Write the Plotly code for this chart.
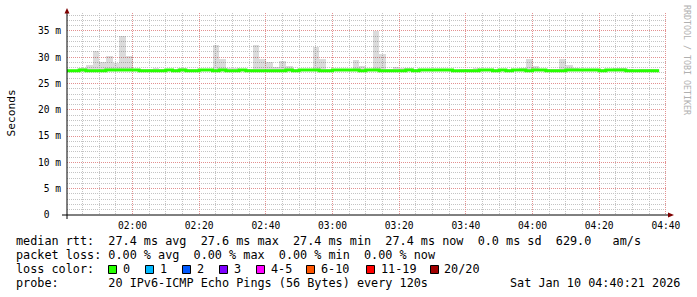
import plotly.graph_objects as go
import pandas as pd

# ---------------- data ----------------
bin_start = pd.date_range("2026-01-10 01:40:00", periods=89, freq="120s")

median_ms = [27.40, 27.40, 27.58, 27.40, 27.40, 27.40, 27.58, 27.58, 27.58, 27.58,
             27.58, 27.40, 27.40, 27.40, 27.40, 27.58, 27.40, 27.58, 27.40, 27.40,
             27.58, 27.58, 27.40, 27.58, 27.40, 27.40, 27.58, 27.40, 27.40, 27.40,
             27.40, 27.40, 27.40, 27.58, 27.40, 27.58, 27.58, 27.58, 27.40, 27.40,
             27.58, 27.58, 27.58, 27.58, 27.40, 27.58, 27.58, 27.40, 27.40, 27.40,
             27.40, 27.58, 27.40, 27.58, 27.58, 27.58, 27.58, 27.58, 27.40, 27.40,
             27.40, 27.40, 27.58, 27.58, 27.40, 27.58, 27.40, 27.58, 27.58, 27.40,
             27.58, 27.58, 27.40, 27.40, 27.40, 27.58, 27.58, 27.58, 27.58, 27.58,
             27.40, 27.58, 27.58, 27.58, 27.40, 27.40, 27.40, 27.40, 27.40]

smoke_max_ms = [27.6, 27.6, 27.9, 28.5, 31.2, 29.0, 30.2, 28.9, 34.0, 30.2,
                27.8, 27.8, 27.7, 27.9, 27.8, 27.7, 27.8, 27.9, 27.8, 27.7,
                27.7, 27.8, 32.3, 29.7, 27.9, 27.9, 27.7, 27.8, 32.3, 29.6,
                29.0, 28.2, 29.2, 28.4, 27.7, 27.7, 27.8, 32.0, 29.6, 27.7,
                27.7, 27.6, 27.7, 29.4, 28.4, 27.7, 34.9, 30.6, 27.8, 28.2,
                27.9, 27.9, 27.7, 27.7, 27.8, 27.7, 27.7, 27.8, 27.6, 27.7,
                27.7, 27.9, 27.8, 27.7, 27.7, 27.6, 27.7, 27.8, 27.9, 29.6,
                28.4, 27.8, 27.7, 27.7, 29.6, 28.5, 27.9, 27.7, 27.7, 27.6,
                27.7, 27.7, 27.9, 27.9, 27.7, 27.6, 27.7, 27.7, 27.7]

smoke_min_ms = [27.2, 27.2, 27.3, 27.2, 27.2, 27.2, 27.3, 27.3, 27.3, 27.3,
                27.3, 27.2, 27.2, 27.2, 27.2, 27.3, 27.2, 27.3, 27.2, 27.2,
                27.3, 27.3, 27.2, 27.3, 27.2, 27.2, 27.3, 27.2, 27.2, 27.2,
                27.2, 27.2, 27.2, 27.3, 27.2, 27.3, 27.3, 27.3, 27.2, 27.2,
                27.3, 27.3, 27.3, 27.3, 27.2, 27.3, 27.3, 27.2, 27.2, 27.2,
                27.2, 27.3, 27.2, 27.3, 27.3, 27.3, 27.3, 27.3, 27.2, 27.2,
                27.2, 27.2, 27.3, 27.3, 27.2, 27.3, 27.2, 27.3, 27.3, 27.2,
                27.3, 27.3, 27.2, 27.2, 27.2, 27.3, 27.3, 27.3, 27.3, 27.3,
                27.2, 27.3, 27.3, 27.3, 27.2, 27.2, 27.2, 27.2, 27.2]

y_tickvals = [0, 5, 10, 15, 20, 25, 30, 35]
y_ticktext = ["0\u00a0\u00a0", "5 m", "10 m", "15 m", "20 m", "25 m", "30 m", "35 m"]

x_range = ["2026-01-10 01:40:21", "2026-01-10 04:40:21"]

stats_rtt = ["27.4 ms avg", "27.6 ms max", "27.4 ms min", "27.4 ms now", "0.0 ms sd", "629.0", "am/s"]
stats_loss = ["0.00 % avg", "0.00 % max", "0.00 % min", "0.00 % now"]
loss_labels = ["0", "1", "2", "3", "4-5", "6-10", "11-19", "20/20"]
loss_colors = ["#26ff00", "#00b8ff", "#0059ff", "#7e00ff", "#ff00ff", "#ff5500", "#ff0000", "#a10000"]
probe_text = "20 IPv6-ICMP Echo Pings (56 Bytes) every 120s"
date_text = "Sat Jan 10 04:40:21 2026"

# ---------------- geometry helpers (pixels -> paper) ----------------
W, H = 697, 297
L, R, T, B = 67, 30, 13, 82
PW, PH = W - L - R, H - T - B


def px(x):
    return (x - L) / PW


def py(y):
    return (H - B - y) / PH


MONO = "DejaVu Sans Mono"
NB = "\u00a0"

fig = go.Figure()

# smoke
step = pd.Timedelta(seconds=120)
centers = bin_start + step / 2
fig.add_trace(go.Bar(
    x=centers, y=[hi - lo for hi, lo in zip(smoke_max_ms, smoke_min_ms)],
    base=smoke_min_ms, width=120000,
    marker=dict(color="rgba(0,0,0,0.14)", line=dict(width=0)),
    hoverinfo="skip",
))

# median line (step)
xs = list(bin_start) + [bin_start[-1] + step]
ys = list(median_ms) + [median_ms[-1]]
fig.add_trace(go.Scatter(
    x=xs, y=ys, mode="lines", line=dict(color="#26ff00", width=3, shape="hv"),
    hoverinfo="skip",
))

grid_dash = "1px,1px"
fig.update_xaxes(
    range=x_range, type="date", tickformat="%H:%M",
    tick0="2026-01-10 02:00:00", dtick=1200000,
    showgrid=True, gridcolor="#e39090", griddash=grid_dash, gridwidth=1,
    minor=dict(dtick=300000, showgrid=True, gridcolor="#c4c4c4", griddash=grid_dash, gridwidth=1),
    showline=False, zeroline=False, ticks="", ticklabelstandoff=3,
    tickfont=dict(family=MONO, size=9.6, color="#000"),
)
fig.update_yaxes(
    range=[0, 38.4], tickvals=y_tickvals, ticktext=y_ticktext,
    showgrid=True, gridcolor="#e39090", griddash=grid_dash, gridwidth=1,
    minor=dict(dtick=1, showgrid=True, gridcolor="#c4c4c4", griddash=grid_dash, gridwidth=1),
    showline=False, zeroline=False, ticks="", ticklabelstandoff=5,
    tickfont=dict(family=MONO, size=9.6, color="#000"),
)

shapes = []
# axes lines
shapes.append(dict(type="line", xref="paper", yref="paper", x0=px(62), x1=px(668), y0=py(215), y1=py(215),
                   line=dict(color="#000", width=1)))
shapes.append(dict(type="line", xref="paper", yref="paper", x0=px(67), x1=px(67), y0=py(219), y1=py(12),
                   line=dict(color="#000", width=1)))
# arrows
shapes.append(dict(type="path", xref="paper", yref="paper",
                   path=f"M {px(668)} {py(212.5)} L {px(674)} {py(215)} L {px(668)} {py(217.5)} Z",
                   fillcolor="#7f0000", line=dict(color="#7f0000", width=0)))
shapes.append(dict(type="path", xref="paper", yref="paper",
                   path=f"M {px(64.5)} {py(13.5)} L {px(67)} {py(8)} L {px(69.5)} {py(13.5)} Z",
                   fillcolor="#7f0000", line=dict(color="#7f0000", width=0)))

annotations = []


def text(x, y, s, size=11.8, xanchor="left", color="#000", angle=0):
    annotations.append(dict(x=px(x), y=py(y), xref="paper", yref="paper", text=s.replace(" ", NB),
                            showarrow=False, xanchor=xanchor, yanchor="middle", textangle=angle,
                            font=dict(family=MONO, size=size, color=color), borderpad=0))


line1 = "median rtt:  " + "  ".join(stats_rtt[:5]) + "  " + stats_rtt[5] + "   " + stats_rtt[6]
line2 = "packet loss: " + "  ".join(stats_loss)
text(15, 241.5, line1)
text(15, 255.3, line2)
text(15, 269.2, "loss color:")
text(15, 283, "probe:       " + probe_text)
text(681, 283, date_text, xanchor="right")

box_x = [108.5, 145.5, 182.5, 219.5, 256.5, 306.5, 366.5, 430.5]
for bx, lab, col in zip(box_x, loss_labels, loss_colors):
    shapes.append(dict(type="rect", xref="paper", yref="paper", x0=px(bx), x1=px(bx + 8),
                       y0=py(273.5), y1=py(265.5), fillcolor=col, line=dict(color="#000", width=1)))
    text(bx + 13, 269.2, lab)

# axis title
text(10.5, 113, "Seconds", size=11.2, xanchor="center", angle=-90)
# watermark
text(687, 60, "RRDTOOL / TOBI OETIKER", size=8.3, xanchor="center", color="#b0b0b0", angle=90)

fig.update_layout(
    width=W, height=H, margin=dict(l=L, r=R, t=T, b=B, pad=0),
    paper_bgcolor="#fff", plot_bgcolor="#fff",
    showlegend=False, hovermode=False, bargap=0,
    shapes=shapes, annotations=annotations,
)

fig.write_html("out.html")
